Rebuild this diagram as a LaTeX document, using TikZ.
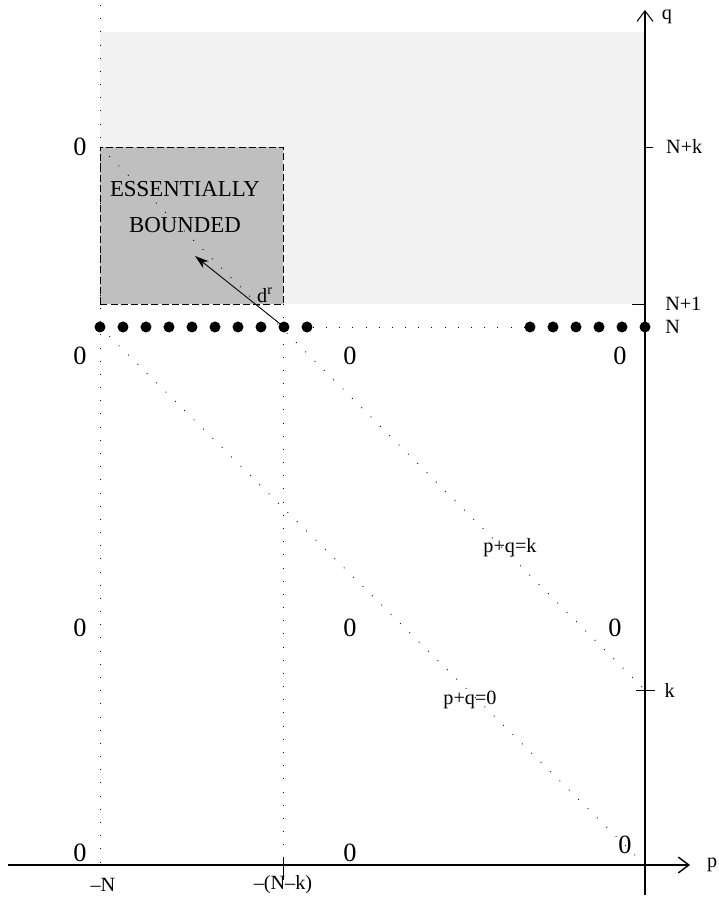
\documentclass[tikz,border=0pt]{standalone}
\usepackage{fontspec}
\setmainfont{Liberation Serif}
\usetikzlibrary{arrows.meta}
\tikzset{
  sparse/.style={line width=0.5pt, dash pattern=on 0.5pt off 7pt},
  zero/.style={font=\fontsize{15}{15}\selectfont},
  lab/.style={font=\fontsize{11.5}{13}\selectfont},
  dot/.style={circle, fill=black, inner sep=0pt, minimum size=0.22cm}
}
\begin{document}
\begin{tikzpicture}[x=0.02cm, y=0.02cm]
    \useasboundingbox (-645,-37) rectangle (74,865);
    % regions
    \fill[black!5] (-545,561) rectangle (0,833);
    \draw[fill=black!25, dash pattern=on 4pt off 1.8pt] (-545,561) rectangle (-362,718);
    \node[align=center, font=\fontsize{13}{20}\selectfont] (eb) at (-460,658) {ESSENTIALLY\\BOUNDED};
    % axes
    \coordinate (O) at (0,0);
    \draw[line width=0.8pt, -{Straight Barb[length=6pt, width=9pt]}] (-637,0) -- (45,0) node[right, lab, xshift=6pt] (p) {p};
    \draw[line width=0.6pt, -{Straight Barb[length=6pt, width=9pt]}] (0,-30) -- (0,855) node[right, lab, xshift=6pt, yshift=-4pt] (q) {q};
    % ticks
    \draw (0,718) -- (8,718) node[right, lab, xshift=4pt] (Nk) {N+k};
    \draw (-13,561) -- (0,561) node[right, lab, xshift=8pt] (N1) {N+1};
    \node[right, lab, xshift=8pt] (Nl) at (0,538) {N};
    \draw (-9,175) -- (10,175) node[right, lab, xshift=2pt] (kl) {k};
    \draw (-362,-15) -- (-362,8);
    \node[lab] (mN) at (-542,-20) {--N};
    \node[lab] (mNk) at (-362,-20) {--(N--k)};
    % dotted lines
    \draw[sparse] (-545,860) -- (-545,0);
    \draw[sparse] (-362,561) -- (-362,0);
    \draw[sparse] (-545,718) -- (0,175);
    \draw[sparse] (-545,538) -- (0,0);
    % row q=N
    \foreach \i in {0,...,9}
        \node[dot] (a\i) at (-545+23*\i,538) {};
    \foreach \i in {0,...,5}
        \node[dot] (b\i) at (-23*\i,538) {};
    \draw[sparse] (a9) -- (b5);
    \draw[-{Stealth[length=8pt, width=5pt]}, line width=0.5pt] (a8.center) -- (-450,609);
    \node[lab] (dr) at (-380,570) {d\textsuperscript{r}};
    \node[lab] (l1) at (-135,317) {p+q=k};
    \node[lab] (l0) at (-175,165) {p+q=0};
    % zeros
    \foreach \x/\y in {-565/718, -565/509, -295/509, -25/509, -565/237, -295/237, -30/237, -565/12, -295/12, -20/20}
        \node[zero] at (\x,\y) {0};
\end{tikzpicture}
\end{document}
